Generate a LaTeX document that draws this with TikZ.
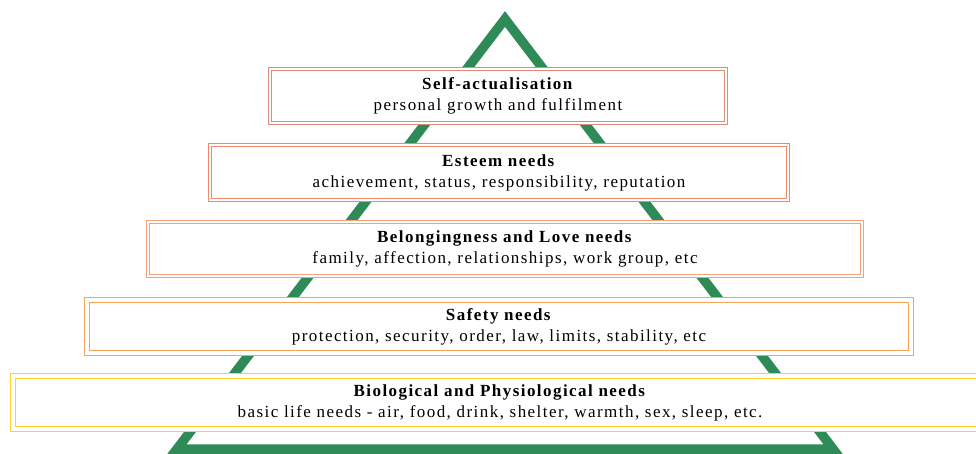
\documentclass[tikz,border=0pt]{standalone}
\usepackage{fontspec}
\setmainfont{Liberation Serif}[LetterSpace=8.5]
\usepackage{tikz}

\definecolor{pyramid}{RGB}{46,139,87}
\definecolor{selfc}{RGB}{222,140,115}
\definecolor{esteemc}{RGB}{245,135,105}
\definecolor{belongc}{RGB}{248,160,120}
\definecolor{safetyc}{RGB}{245,165,90}
\definecolor{bioc}{RGB}{255,212,40}

\begin{document}
\begin{tikzpicture}[x=1pt,y=-1pt]
            \tikzstyle{every node}=[draw,shape=rectangle,fill=white,double=white,line width=1.2pt,double distance=1.5pt,align=center,inner sep=0pt,font=\fontsize{17}{21}\selectfont];
            \useasboundingbox (0,0) rectangle (976,453);
            \draw[pyramid,line width=9.5pt,line join=miter] (177,449) -- (505,19) -- (833,449) -- cycle;
            \node[draw=selfc,minimum width=456.1pt,minimum height=54.1pt] (self) at (498,96)
                {\textbf{Self-actualisation}\\personal growth and fulfilment};
            \node[draw=esteemc,minimum width=578.1pt,minimum height=55.1pt] (esteem) at (499,172.5)
                {\textbf{Esteem needs}\\achievement, status, responsibility, reputation};
            \node[draw=belongc,minimum width=714.1pt,minimum height=54.1pt] (belong) at (505,249)
                {\textbf{Belongingness and Love needs}\\family, affection, relationships, work group, etc};
            \node[draw=safetyc,double distance=4pt,minimum width=823.6pt,minimum height=52.6pt] (safety) at (499,326.5)
                {\textbf{Safety needs}\\protection, security, order, law, limits, stability, etc};
            \node[draw=bioc,double distance=3.5pt,minimum width=974.1pt,minimum height=53.1pt] (bio) at (500,402.5)
                {\textbf{Biological and Physiological needs}\\basic life needs - air, food, drink, shelter, warmth, sex, sleep, etc.};
\end{tikzpicture}
\end{document}
